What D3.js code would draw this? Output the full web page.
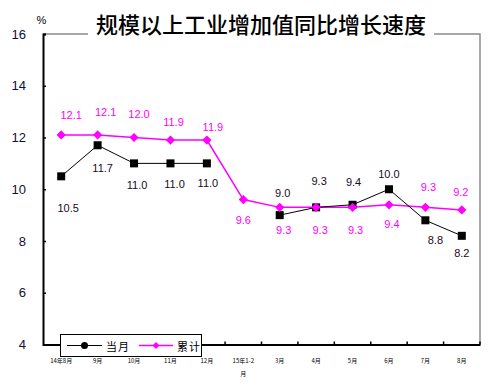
<!DOCTYPE html>
<html><head><meta charset="utf-8">
<script src="https://cdn.jsdelivr.net/npm/d3@7"></script>
<style>
html,body{margin:0;padding:0;background:#fff;}
svg{display:block;font-family:Arial,"Liberation Sans",sans-serif;}
</style></head>
<body>
<svg id="c" width="488" height="392"></svg>
<script>
// ---- data ----
const categories = ["14年8月","9月","10月","11月","12月","15年1-2\n月","3月","4月","5月","6月","7月","8月"];
const monthly    = [10.5, 11.7, 11.0, 11.0, 11.0, null, 9.0, 9.3, 9.4, 10.0, 8.8, 8.2];   // 当月
const cumulative = [12.1, 12.1, 12.0, 11.9, 11.9, 9.6, 9.3, 9.3, 9.3, 9.4, 9.3, 9.2];    // 累计
const yTicks = [4, 6, 8, 10, 12, 14, 16];
const seriesNames = ["当月", "累计"];
const titleText = "规模以上工业增加值同比增长速度";

// label placement offsets (px) relative to each point
const monthlyLabelOff = [[7,32],[5,23],[3,22],[4,21],[1,20],null,[3,-22],[3,-26],[1,-23],[0,-15],[10,20],[0,17]];
const cumulLabelOff   = [[10,-20],[8,-23],[5,-24],[3,-18],[6,-13],[0,20],[4,23],[4,23],[3,23],[3,19],[3,-20],[-1,-18]];

const svg = d3.select("#c");
const L = 43, R = 480, T = 34, B = 344.5;
const MAG = "#FF00FF";

const x = d3.scaleBand().domain(d3.range(categories.length)).range([L, R]).paddingInner(0).paddingOuter(0);
const cx = i => x(i) + x.bandwidth() / 2;
const y = d3.scaleLinear().domain([4, 16]).range([B, T]);

// top/right gray border
svg.append("path")
  .attr("d", `M${L},${T}H88M434,${T}H${R}V${B}`)
  .attr("fill", "none").attr("stroke", "#8c8c8c").attr("stroke-width", 1.5);

// y axis
const yAxis = d3.axisLeft(y).tickValues(yTicks).tickFormat(d3.format("d")).tickSize(-3).tickPadding(17);
const gy = svg.append("g").attr("transform", `translate(${L},0)`).call(yAxis);
gy.select(".domain").attr("stroke", "#000").attr("stroke-width", 2);
gy.selectAll(".tick line").attr("stroke", "#000").attr("stroke-width", 1.5);
gy.selectAll(".tick text").attr("font-size", 13).attr("fill", "#10103a")
  .attr("font-family", "Arial, 'Liberation Sans', sans-serif");

// x axis
const xAxis = d3.axisBottom(x).tickSize(0).tickPadding(0).tickFormat(() => "");
const gx = svg.append("g").attr("transform", `translate(0,${B})`).call(xAxis);
gx.select(".domain").attr("stroke", "#000").attr("stroke-width", 2);
gx.selectAll(".tick").remove();
// boundary ticks (inward)
svg.append("g").selectAll("line").data(d3.range(1, categories.length + 1)).join("line")
  .attr("x1", i => x(i - 1) + x.bandwidth()).attr("x2", i => x(i - 1) + x.bandwidth())
  .attr("y1", B).attr("y2", B - 3).attr("stroke", "#000").attr("stroke-width", 1.5);
// x labels
const xl = svg.append("g").selectAll("text").data(categories).join("text")
  .attr("x", (d, i) => cx(i)).attr("y", B + 18)
  .attr("text-anchor", "middle").attr("font-size", 6)
  .attr("font-family", "'Noto Sans CJK SC', sans-serif").attr("fill", "#000");
xl.each(function(d) {
  const parts = d.split("\n");
  const t = d3.select(this);
  parts.forEach((p, k) => t.append("tspan").attr("x", t.attr("x")).attr("dy", k === 0 ? 0 : 13).text(p));
});

// lines
const lineGen = d3.line().defined(d => d != null).x((d, i) => cx(i)).y(d => y(d));
svg.append("path").datum(cumulative).attr("d", lineGen)
  .attr("fill", "none").attr("stroke", MAG).attr("stroke-width", 1.5);
svg.append("path").datum(monthly).attr("d", lineGen)
  .attr("fill", "none").attr("stroke", "#000").attr("stroke-width", 1);

// markers
svg.append("g").selectAll("rect").data(monthly.map((v, i) => ({v, i})).filter(d => d.v != null)).join("rect")
  .attr("x", d => cx(d.i) - 4).attr("y", d => y(d.v) - 4).attr("width", 8).attr("height", 8).attr("fill", "#000");
const diamond = s => `M0,${-s}L${s},0L0,${s}L${-s},0Z`;
svg.append("g").selectAll("path").data(cumulative).join("path")
  .attr("transform", (d, i) => `translate(${cx(i)},${y(d)})`).attr("d", diamond(4.6)).attr("fill", MAG);

// data labels
svg.append("g").selectAll("text").data(monthly.map((v, i) => ({v, i})).filter(d => d.v != null)).join("text")
  .attr("x", d => cx(d.i) + monthlyLabelOff[d.i][0]).attr("y", d => y(d.v) + monthlyLabelOff[d.i][1])
  .attr("text-anchor", "middle").attr("dominant-baseline", "central")
  .attr("font-size", 11).attr("fill", "#1a0a1a").text(d => d.v.toFixed(1));
svg.append("g").selectAll("text").data(cumulative).join("text")
  .attr("x", (d, i) => cx(i) + cumulLabelOff[i][0]).attr("y", (d, i) => y(d) + cumulLabelOff[i][1])
  .attr("text-anchor", "middle").attr("dominant-baseline", "central")
  .attr("font-size", 11).attr("fill", MAG).text(d => d.toFixed(1));

// title and unit
svg.append("text").attr("x", 261).attr("y", 23).attr("text-anchor", "middle").attr("dominant-baseline", "central")
  .attr("font-family", "'Noto Sans CJK SC', sans-serif").attr("font-size", 22).attr("font-weight", 500)
  .attr("fill", "#000").text(titleText);
svg.append("text").attr("x", 41.5).attr("y", 20).attr("text-anchor", "middle").attr("dominant-baseline", "central")
  .attr("font-size", 11).attr("fill", "#000").text("%");

// legend
const lg = svg.append("g");
lg.append("rect").attr("x", 60.5).attr("y", 334.5).attr("width", 141).attr("height", 22)
  .attr("fill", "#fff").attr("stroke", "#000").attr("stroke-width", 1);
const ly = 345.5;
lg.append("line").attr("x1", 67).attr("x2", 102).attr("y1", ly).attr("y2", ly).attr("stroke", "#000").attr("stroke-width", 1);
lg.append("circle").attr("cx", 84.5).attr("cy", ly).attr("r", 3.5).attr("fill", "#000");
lg.append("line").attr("x1", 139).attr("x2", 173).attr("y1", ly).attr("y2", ly).attr("stroke", MAG).attr("stroke-width", 1.5);
lg.append("path").attr("transform", `translate(156,${ly})`).attr("d", diamond(3.5)).attr("fill", MAG);
lg.selectAll("text.lt").data(seriesNames).join("text").attr("class", "lt")
  .attr("x", (d, i) => i === 0 ? 106 : 177).attr("y", ly).attr("dominant-baseline", "central")
  .attr("font-family", "'Noto Sans CJK SC', sans-serif").attr("font-size", 11).attr("letter-spacing", 1)
  .attr("fill", "#000").text(d => d);
</script>
</body></html>
